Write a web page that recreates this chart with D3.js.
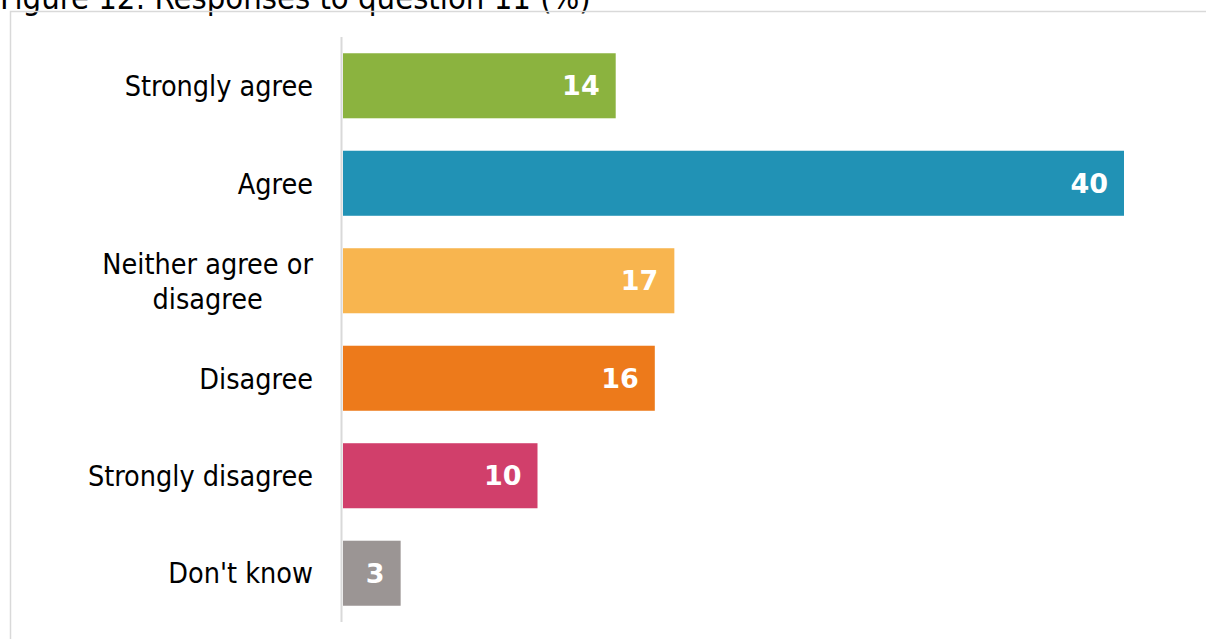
<!DOCTYPE html>
<html>
<head>
<meta charset="utf-8">
<script src="https://cdn.jsdelivr.net/npm/d3@7"></script>
<style>
  html, body { margin: 0; padding: 0; background: #fff; overflow: hidden; }
  svg { display: block; }
  .lbl { font-family: "DejaVu Sans Condensed", "DejaVu Sans", sans-serif; font-stretch: condensed; }
</style>
</head>
<body>
<svg id="chart" width="1206" height="639"></svg>
<script>
// Responses to question 11, percentage of respondents
const categories = ["Strongly agree", "Agree", "Neither agree or disagree", "Disagree", "Strongly disagree", "Don't know"];
const labelLines = [["Strongly agree"], ["Agree"], ["Neither agree or", "disagree"], ["Disagree"], ["Strongly disagree"], ["Don't know"]];
const values = [14, 40, 17, 16, 10, 3];
const colors = ["#8bb33f", "#2192b5", "#f8b54f", "#ed7a1b", "#d13f6b", "#9b9594"];
const titleText = "Figure 12: Responses to question 11 (%)";

const svg = d3.select("#chart");
const W = 1206, H = 639;

// title, partly cut off at the top edge
svg.append("text")
  .attr("class", "lbl")
  .attr("x", 0)
  .attr("y", 9)
  .attr("font-size", 32.5)
  .attr("fill", "#000")
  .text(titleText);

// chart frame
svg.append("rect")
  .attr("x", 10.5).attr("y", 11.5)
  .attr("width", W + 20).attr("height", H + 20)
  .attr("fill", "none")
  .attr("stroke", "#d9d9d9")
  .attr("stroke-width", 1.5);

const x = d3.scaleLinear().domain([0, 40]).range([342, 1124]);
const y = d3.scaleBand().domain(categories).range([37, 622]).paddingInner(0.333).paddingOuter(0.1667);

// category axis line
svg.append("line")
  .attr("x1", 341.5).attr("x2", 341.5)
  .attr("y1", y.range()[0]).attr("y2", y.range()[1])
  .attr("stroke", "#d9d9d9")
  .attr("stroke-width", 2);

// bars
svg.selectAll("rect.bar")
  .data(values)
  .join("rect")
  .attr("class", "bar")
  .attr("x", x(0) + 1)
  .attr("y", (d, i) => y(categories[i]))
  .attr("width", d => x(d) - x(0) - 1)
  .attr("height", y.bandwidth())
  .attr("fill", (d, i) => colors[i]);

// value labels inside bar ends
svg.selectAll("text.val")
  .data(values)
  .join("text")
  .attr("class", "val")
  .attr("x", d => x(d) - 16)
  .attr("y", (d, i) => y(categories[i]) + y.bandwidth() / 2)
  .attr("dy", "0.36em")
  .attr("text-anchor", "end")
  .attr("font-family", "'DejaVu Sans', sans-serif")
  .attr("font-weight", "bold")
  .attr("font-size", 27)
  .attr("fill", "#fff")
  .text(d => d);

// category labels, right-aligned blocks with centred lines
const labelRight = 313;
const lineH = 35;
labelLines.forEach((lines, i) => {
  const cy = y(categories[i]) + y.bandwidth() / 2;
  const g = svg.append("text")
    .attr("class", "lbl")
    .attr("font-size", 28.5)
    .attr("fill", "#000")
    .attr("text-anchor", "middle");
  const spans = lines.map((t, k) => g.append("tspan")
    .attr("y", cy + (k - (lines.length - 1) / 2) * lineH)
    .attr("dy", "0.36em")
    .text(t));
  const maxW = d3.max(spans, s => s.node().getComputedTextLength());
  spans.forEach(s => s.attr("x", labelRight - maxW / 2));
});
</script>
</body>
</html>
